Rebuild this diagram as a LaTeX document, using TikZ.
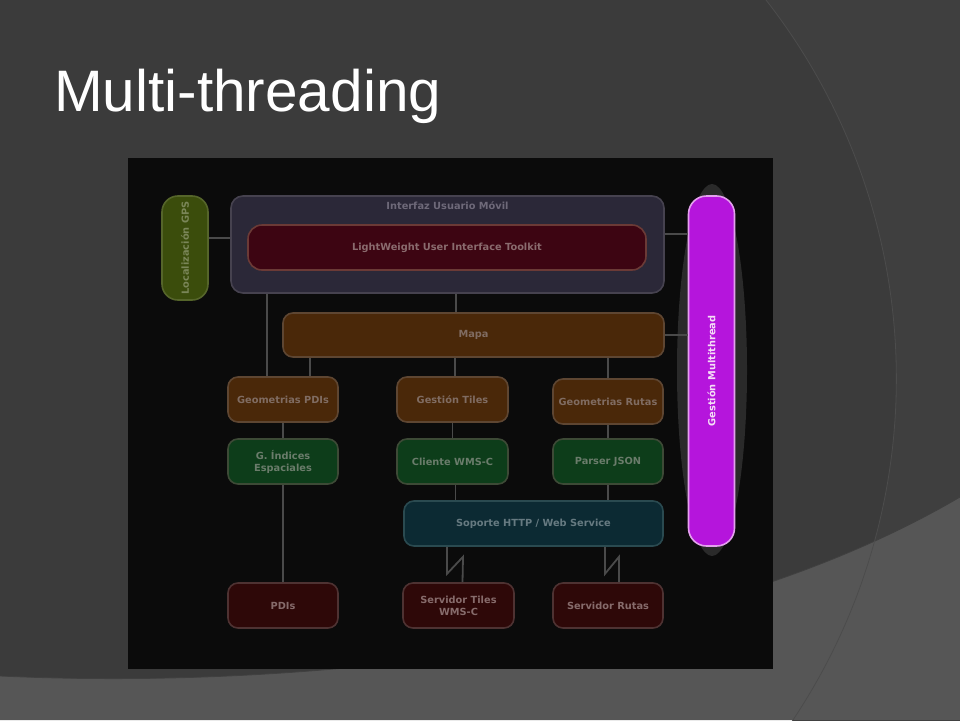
\documentclass[tikz,border=0pt]{standalone}
\usepackage{fontspec}
\setmainfont{Liberation Sans}
\newfontfamily\boxfont{DejaVu Sans}
\usetikzlibrary{calc}

\definecolor{fondo}{HTML}{3B3B3B}
\definecolor{fondoarco}{HTML}{3F3F3F}
\definecolor{fondoclaro}{HTML}{565656}
\definecolor{panel}{HTML}{0B0B0B}
\definecolor{conector}{HTML}{4A4A4A}
\definecolor{gpsfill}{HTML}{3B4D0C}
\definecolor{gpsline}{HTML}{55652A}
\definecolor{gpstext}{HTML}{7A8658}
\definecolor{ifzfill}{HTML}{2B2838}
\definecolor{ifzline}{HTML}{46424F}
\definecolor{ifztext}{HTML}{6E6979}
\definecolor{lwfill}{HTML}{3D0512}
\definecolor{lwline}{HTML}{6B3A36}
\definecolor{lwtext}{HTML}{8A6B6E}
\definecolor{marronfill}{HTML}{4A2809}
\definecolor{marronline}{HTML}{5E4632}
\definecolor{marrontext}{HTML}{806C62}
\definecolor{verdefill}{HTML}{0D3D1A}
\definecolor{verdeline}{HTML}{3D4A36}
\definecolor{verdetext}{HTML}{6A7C6B}
\definecolor{httpfill}{HTML}{0C2A33}
\definecolor{httpline}{HTML}{2A4A50}
\definecolor{httptext}{HTML}{667A81}
\definecolor{servfill}{HTML}{2E0808}
\definecolor{servline}{HTML}{4E3232}
\definecolor{servtext}{HTML}{866B6B}
\definecolor{mtfill}{HTML}{B515DC}
\definecolor{mtline}{HTML}{E4A0EE}
\definecolor{mttext}{HTML}{F4DDF6}
\definecolor{mthalo}{HTML}{2A2A2A}

\begin{document}
\begin{tikzpicture}[x=1pt,y=-1pt,
  caja/.style={rectangle, rounded corners=10pt, draw, line width=1.6pt, minimum height=45pt, minimum width=110pt, align=center, inner sep=2pt, font=\boxfont\bfseries\fontsize{9.8}{12}\selectfont},
  marron/.style={caja, fill=marronfill, draw=marronline, text=marrontext},
  verde/.style={caja, fill=verdefill, draw=verdeline, text=verdetext},
  servidor/.style={caja, fill=servfill, draw=servline, text=servtext},
  conn/.style={draw=conector, line width=1.8pt}]

\useasboundingbox (0,0) rectangle (960,720);

% fondo de la diapositiva
\fill[fondo] (0,0) rectangle (960,720);
\fill[fondoarco] (766,0) arc[start angle=-38, end angle=34, radius=615] -- (960,723) -- (960,0) -- cycle;
\fill[fondoclaro] (0,676) .. controls (300,690) and (700,650) .. (960,497) -- (960,720) -- (0,720) -- cycle;
\draw[black!75, line width=.8pt] (0,676) .. controls (300,690) and (700,650) .. (960,497);
\draw[black!70, line width=.8pt] (766,0) arc[start angle=-38, end angle=34, radius=615];

\node (titulo) at(54,111) [anchor=base west, inner sep=0, text=white, font=\fontsize{58.5}{60}\selectfont] {Multi-threading};

\fill[panel] (128,158) rectangle (773,669);

%---------------------------------------------------------------
\node (gps) at(185,248) [caja, rotate=90, minimum width=104pt, minimum height=46pt, rounded corners=16pt, fill=gpsfill, draw=gpsline, text=gpstext] {Localización GPS};
\node (interfaz) at(447.5,244.5) [caja, minimum width=433pt, minimum height=97pt, rounded corners=12pt, fill=ifzfill, draw=ifzline,
  label={[anchor=north, yshift=-3pt, text=ifztext, font=\boxfont\bfseries\fontsize{9.8}{10}\selectfont]north:Interfaz Usuario Móvil}] {};
\node (lwuit) at(447,247.5) [caja, minimum width=398pt, rounded corners=14pt, fill=lwfill, draw=lwline, text=lwtext] {LightWeight User Interface Toolkit};

\fill[mthalo] (712,370) ellipse [x radius=35, y radius=186];
\node (gestion) at(711.5,371) [caja, rotate=90, minimum width=350pt, minimum height=46pt, rounded corners=18pt, fill=mtfill, draw=mtline, text=mttext] {Gestión Multithread};

\node (mapa) at(473.5,335) [marron, minimum width=381pt, minimum height=44pt] {Mapa};

%---------------------------------------------------------------
\node (geopdi) at(283,399.5) [marron] {Geometrias PDIs};
\node (gtiles) at(452.5,399.5) [marron, minimum width=111pt] {Gestión Tiles};
\node (georutas) at(608,401.5) [marron] {Geometrias Rutas};

\node (indices) at(283,461.5) [verde] {G. Índices\\Espaciales};
\node (cliente) at(452.5,461.5) [verde, minimum width=111pt] {Cliente WMS-C};
\node (parser) at(608,461.5) [verde] {Parser JSON};

\node (soporte) at(533.5,523.5) [caja, minimum width=259pt, fill=httpfill, draw=httpline, text=httptext] {Soporte HTTP / Web Service};

\node (pdis) at(283,605.5) [servidor] {PDIs};
\node (servtiles) at(458.5,605.5) [servidor, minimum width=111pt] {Servidor Tiles\\WMS-C};
\node (servrutas) at(608,605.5) [servidor] {Servidor Rutas};

%---------------------------------------------------------------
\draw[conn] ([yshift=10pt]gps.south) -- ([yshift=10pt]gps.south -| interfaz.west);
\draw[conn] ([yshift=10.5pt]interfaz.east) -- ([yshift=10.5pt]interfaz.east -| gestion.north);
\draw[conn] (mapa.east) -- (mapa.east -| gestion.north);

\draw[conn] ([xshift=8.5pt]interfaz.south) -- ([xshift=8.5pt]interfaz.south |- mapa.north);
\draw[conn] ([xshift=-16pt]geopdi.north) -- ([xshift=-16pt]geopdi.north |- interfaz.south);
\draw[conn] ([xshift=27pt]geopdi.north) -- ([xshift=27pt]geopdi.north |- mapa.south);
\draw[conn] ([xshift=2.5pt]gtiles.north) -- ([xshift=2.5pt]gtiles.north |- mapa.south);
\draw[conn] (georutas.north) -- (georutas.north |- mapa.south);

\draw[conn] (geopdi) -- (indices);
\draw[conn] (indices) -- (pdis);
\draw[conn] (gtiles) -- (cliente);
\draw[conn] ([xshift=3pt]cliente.south) -- ([xshift=3pt]cliente.south |- soporte.north);
\draw[conn] (georutas) -- (parser);
\draw[conn] (parser.south) -- (parser.south |- soporte.north);

% enlaces remotos
\draw[conn] ([xshift=-86.5pt]soporte.south) -- ++(0,27) -- ++(16,-17) -- ([xshift=4pt]servtiles.north);
\draw[conn] ([xshift=71.5pt]soporte.south) -- ++(0,27) -- ++(14,-17) -- ([xshift=11pt]servrutas.north);

\end{tikzpicture}
\end{document}
